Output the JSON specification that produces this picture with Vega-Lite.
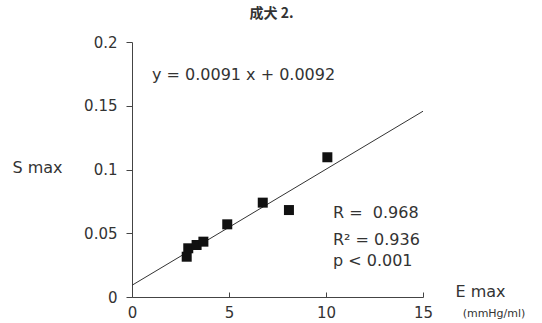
{
  "$schema": "https://vega.github.io/schema/vega-lite/v6.json",
  "width": 291,
  "height": 255,
  "autosize": "none",
  "padding": {"left": 132, "top": 42, "right": 119, "bottom": 26},
  "background": "white",
  "title": {
    "text": "成犬 2.",
    "font": "Noto Sans CJK JP",
    "fontSize": 14,
    "fontWeight": "bold",
    "color": "#333",
    "offset": 14,
    "dx": -6
  },
  "config": {
    "view": {"stroke": null},
    "axis": {
      "grid": false,
      "domain": true,
      "ticks": true,
      "domainWidth": 1,
      "tickWidth": 1,
      "domainOpacity": 1,
      "tickOpacity": 1,
      "labelOverlap": false,
      "labelFlush": false,
      "domainColor": "#444",
      "tickColor": "#444",
      "labelColor": "#333",
      "titleColor": "#333",
      "labelFont": "DejaVu Sans",
      "titleFont": "DejaVu Sans",
      "labelFontSize": 15,
      "titleFontSize": 16,
      "titleFontWeight": "normal"
    }
  },
  "datasets": {
    "points": [
      {"emax": 2.82, "smax": 0.0316},
      {"emax": 2.9, "smax": 0.0382},
      {"emax": 3.33, "smax": 0.0408},
      {"emax": 3.68, "smax": 0.0434},
      {"emax": 4.91, "smax": 0.057},
      {"emax": 6.74, "smax": 0.074},
      {"emax": 8.09, "smax": 0.0682},
      {"emax": 10.07, "smax": 0.1096}
    ],
    "fit": [
      {"emax": 0, "smax": 0.0092},
      {"emax": 15, "smax": 0.1457}
    ],
    "notes": [
      {"emax": 1.03, "smax": 0.174, "label": "y = 0.0091 x + 0.0092"},
      {"emax": 10.36, "smax": 0.0659, "label": "R = \u00a00.968"},
      {"emax": 10.36, "smax": 0.0447, "label": "R² = 0.936"},
      {"emax": 10.36, "smax": 0.0282, "label": "p < 0.001"}
    ],
    "units": [
      {"emax": 18.66, "smax": -0.0135, "label": "(mmHg/ml)"}
    ]
  },
  "layer": [
    {
      "data": {"name": "fit"},
      "mark": {"type": "line", "color": "#333", "strokeWidth": 1},
      "encoding": {
        "x": {
          "field": "emax", "type": "quantitative",
          "scale": {"domain": [0, 15], "nice": false},
          "axis": {
            "values": [0, 5, 10, 15],
            "format": "d",
            "domain": true,
            "ticks": true,
            "domainWidth": 1,
            "tickWidth": 1,
            "tickSize": -5,
            "labelPadding": 13,
            "labelFlush": false,
            "title": "E max",
            "titleAngle": 0,
            "titleAlign": "center",
            "titleBaseline": "middle",
            "titleX": 348,
            "titleY": -6
          }
        },
        "y": {
          "field": "smax", "type": "quantitative",
          "scale": {"domain": [0, 0.2], "nice": false},
          "axis": {
            "values": [0, 0.05, 0.1, 0.15, 0.2],
            "format": "~g",
            "domain": true,
            "ticks": true,
            "domainWidth": 1,
            "tickWidth": 1,
            "tickSize": 6,
            "labelPadding": 9,
            "title": "S max",
            "titleAngle": 0,
            "titleAlign": "center",
            "titleBaseline": "middle",
            "titleX": -95,
            "titleY": 125
          }
        }
      }
    },
    {
      "data": {"name": "points"},
      "mark": {"type": "point", "shape": "square", "filled": true, "color": "#111", "opacity": 1, "size": 100},
      "encoding": {
        "x": {"field": "emax", "type": "quantitative"},
        "y": {"field": "smax", "type": "quantitative"}
      }
    },
    {
      "data": {"name": "notes"},
      "mark": {"type": "text", "align": "left", "baseline": "middle", "font": "DejaVu Sans", "fontSize": 16, "color": "#333"},
      "encoding": {
        "x": {"field": "emax", "type": "quantitative"},
        "y": {"field": "smax", "type": "quantitative"},
        "text": {"field": "label"}
      }
    },
    {
      "data": {"name": "units"},
      "mark": {"type": "text", "align": "center", "baseline": "middle", "font": "DejaVu Sans", "fontSize": 11, "color": "#333", "clip": false},
      "encoding": {
        "x": {"field": "emax", "type": "quantitative"},
        "y": {"field": "smax", "type": "quantitative"},
        "text": {"field": "label"}
      }
    }
  ]
}
